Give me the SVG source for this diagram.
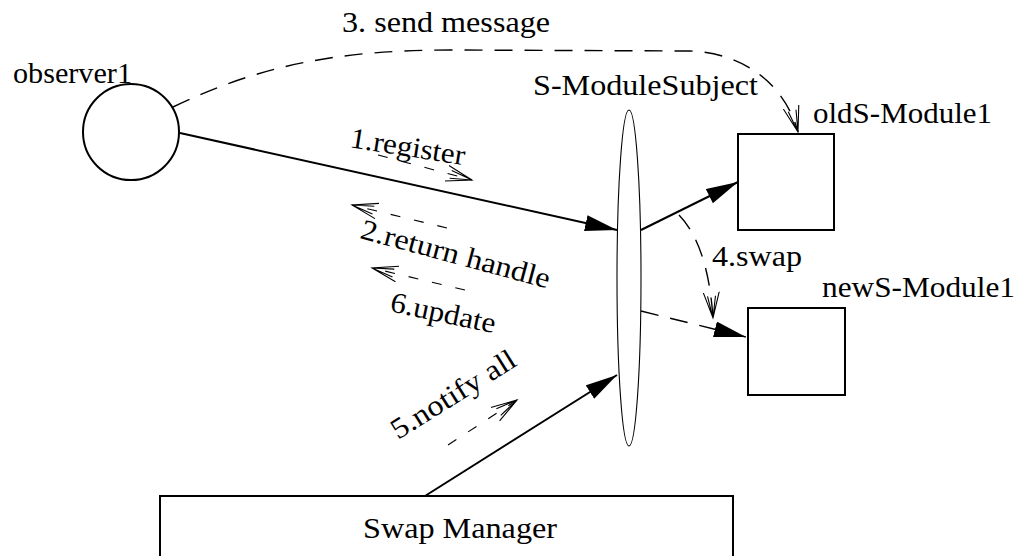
<svg xmlns="http://www.w3.org/2000/svg" width="1026" height="556" viewBox="0 0 1026 556">
  <style>
    .shape { fill: #fff; stroke: #000; stroke-width: 2; }
    .thin { fill: none; stroke: #000; stroke-width: 1.1; }
    .solid { fill: none; stroke: #000; stroke-width: 2; }
    .dash { fill: none; stroke: #000; stroke-width: 1.4; stroke-dasharray: 18 12; }
    .dashsm { fill: none; stroke: #000; stroke-width: 1.1; stroke-dasharray: 10 14; }
    text { font-family: "Liberation Serif", "Times New Roman", serif; font-size: 29px; fill: #000; }
  </style>
  <defs>
    <marker id="filled" markerUnits="userSpaceOnUse" markerWidth="34" markerHeight="18" refX="32" refY="8" orient="auto">
      <path d="M0,0 L32,8 L0,16 Z" fill="#000"/>
    </marker>
    <marker id="open" markerUnits="userSpaceOnUse" markerWidth="30" markerHeight="20" refX="26" refY="10" orient="auto">
      <path d="M0,2 L26,10 L0,18 M4,6 L26,10 L4,14" fill="none" stroke="#000" stroke-width="1.1"/>
    </marker>
  </defs>

  <!-- connectors -->
  <g id="connectors">
    <line class="solid" x1="180" y1="133" x2="617" y2="230" marker-end="url(#filled)"/>
    <line class="solid" x1="641" y1="230" x2="738" y2="182" marker-end="url(#filled)"/>
    <line class="solid" x1="425" y1="496" x2="617" y2="375" marker-end="url(#filled)"/>
    <line class="dash" x1="641" y1="311" x2="746" y2="337" marker-end="url(#filled)"/>
    <path class="dash" d="M173,107 C260,65 340,50 450,50 L690,51 C745,53 785,85 798,132" marker-end="url(#open)"/>
    <path class="dash" d="M679,215 Q708,245 713,318" marker-end="url(#open)"/>
    <!-- message arrows beside the labels -->
    <line class="dashsm" x1="378" y1="155" x2="472" y2="180" marker-end="url(#open)"/>
    <line class="dashsm" x1="447" y1="228" x2="352" y2="205" marker-end="url(#open)"/>
    <line class="dashsm" x1="465" y1="290" x2="372" y2="268" marker-end="url(#open)"/>
    <line class="dashsm" x1="448" y1="445" x2="517" y2="400" marker-end="url(#open)"/>
  </g>

  <!-- nodes -->
  <g id="observer1">
    <circle class="shape" cx="131" cy="132" r="48"/>
    <text x="13" y="83" textLength="119" lengthAdjust="spacingAndGlyphs">observer1</text>
  </g>
  <g id="s-module-subject">
    <ellipse class="thin" cx="629" cy="278" rx="12" ry="168"/>
    <text x="533" y="95" textLength="225" lengthAdjust="spacingAndGlyphs">S-ModuleSubject</text>
  </g>
  <g id="old-s-module1">
    <rect class="shape" x="738" y="134" width="96" height="96"/>
    <text x="813" y="123" textLength="179" lengthAdjust="spacingAndGlyphs">oldS-Module1</text>
  </g>
  <g id="new-s-module1">
    <rect class="shape" x="748" y="308" width="97" height="87"/>
    <text x="822" y="297" textLength="193" lengthAdjust="spacingAndGlyphs">newS-Module1</text>
  </g>
  <g id="swap-manager">
    <rect class="shape" x="160" y="496" width="573" height="70"/>
    <text x="363" y="538" textLength="194" lengthAdjust="spacingAndGlyphs">Swap Manager</text>
  </g>

  <!-- message labels -->
  <g id="labels">
    <text x="342" y="32" textLength="208" lengthAdjust="spacingAndGlyphs">3. send message</text>
    <text transform="translate(349,147) rotate(9)" textLength="116" lengthAdjust="spacingAndGlyphs">1.register</text>
    <text transform="translate(359,238) rotate(15)" textLength="195" lengthAdjust="spacingAndGlyphs">2.return handle</text>
    <text transform="translate(389,311) rotate(12)" textLength="107" lengthAdjust="spacingAndGlyphs">6.update</text>
    <text transform="translate(398,440) rotate(-32)" textLength="142" lengthAdjust="spacingAndGlyphs">5.notify all</text>
    <text x="712" y="266" textLength="90" lengthAdjust="spacingAndGlyphs">4.swap</text>
  </g>
</svg>
